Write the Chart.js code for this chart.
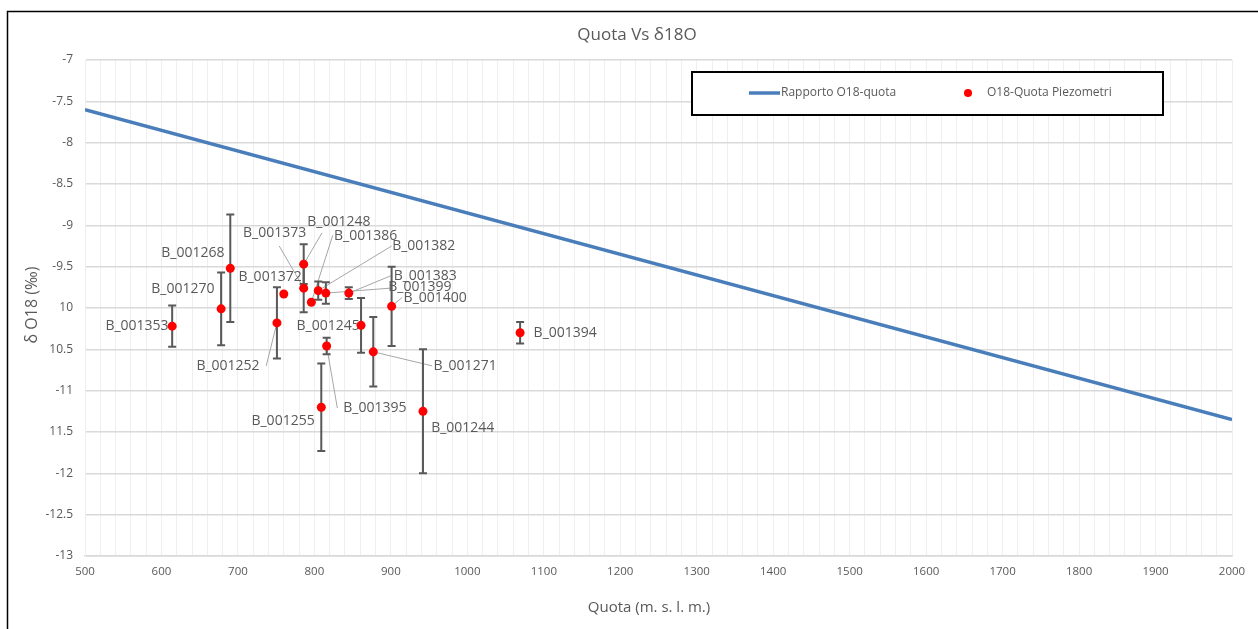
<!DOCTYPE html>
<html>
<head>
<meta charset="utf-8">
<script src="https://cdn.jsdelivr.net/npm/chart.js@4/dist/chart.umd.min.js"></script>
<style>
  html, body { margin: 0; padding: 0; background: #fff; }
  canvas { display: block; }
</style>
</head>
<body>
<canvas id="chart" width="1258" height="629"></canvas>
<script>
// piezometri: nome, quota (m s.l.m.), δ18O (‰), errore (±)
const pointNames = ['B_001353', 'B_001270', 'B_001268', 'B_001252', 'B_001372', 'B_001373',
    'B_001248', 'B_001386', 'B_001382', 'B_001399', 'B_001383', 'B_001400',
    'B_001245', 'B_001395', 'B_001271', 'B_001255', 'B_001244', 'B_001394'];
const pointQuota = [614, 678, 690, 751, 760, 786, 786, 796, 805, 815, 845, 901, 861, 816, 877, 809, 942, 1069];
const pointD18O = [-10.22, -10.01, -9.52, -10.18, -9.83, -9.76, -9.47, -9.93, -9.79, -9.82, -9.82, -9.98,
    -10.21, -10.46, -10.53, -11.20, -11.25, -10.30];
const pointErr = [0.25, 0.44, 0.65, 0.43, 0, 0.29, 0.24, 0, 0.11, 0.13, 0.07, 0.48, 0.33, 0.10, 0.42, 0.53, 0.75, 0.13];

// retta di riferimento
const lineQuota = [500, 2000];
const lineD18O = [-7.6, -11.35];

// etichette assi
const xTickValues = [];
for (let v = 500; v <= 2000; v += 20) xTickValues.push(v);
const yTickValues = [-13, -12.5, -12, -11.5, -11, -10.5, -10, -9.5, -9, -8.5, -8, -7.5, -7];
const yTickLabels = ['-13', '-12.5', '-12', '11.5', '-11', '10.5', '10', '-9.5', '-9', '-8.5', '-8', '-7.5', '-7'];

const seriesNames = ['Rapporto O18-quota', 'O18-Quota Piezometri'];

// posizione etichette (centro testo, unità dati) e inizio linea guida
const labelAt = [[568, -10.22], [628, -9.77], [641, -9.33], [687, -10.70], [742, -9.62], [748, -9.09],
    [832, -8.96], [867, -9.13], [943, -9.25], [938, -9.75], [945, -9.61], [958, -9.88],
    [818, -10.22], [879, -11.21], [997, -10.70], [759, -11.37], [994, -11.45], [1128, -10.30]];
const leaderFrom = [null, null, null, [737, -10.70], null, [754, -9.25],
    [810, -9.09], [824, -9.12], [901, -9.25], [899, -9.76], [900, -9.61], [915, -9.87],
    null, [830, -11.21], [954, -10.70], null, null, null];

const FONT = '"Open Sans", "Liberation Sans", sans-serif';
const TEXT = '#595959';

const decorPlugin = {
    id: 'decor',
    beforeDatasetsDraw(chart) {
        const { ctx, scales: { x, y } } = chart;
        ctx.save();
        // linee guida
        ctx.strokeStyle = '#a6a6a6';
        ctx.lineWidth = 1;
        leaderFrom.forEach((p, i) => {
            if (!p) return;
            ctx.beginPath();
            ctx.moveTo(x.getPixelForValue(p[0]), y.getPixelForValue(p[1]));
            ctx.lineTo(x.getPixelForValue(pointQuota[i]), y.getPixelForValue(pointD18O[i]));
            ctx.stroke();
        });
        // barre di errore
        ctx.strokeStyle = '#595959';
        ctx.lineWidth = 2;
        pointQuota.forEach((q, i) => {
            if (!pointErr[i]) return;
            const px = x.getPixelForValue(q);
            const top = y.getPixelForValue(pointD18O[i] + pointErr[i]);
            const bot = y.getPixelForValue(pointD18O[i] - pointErr[i]);
            ctx.beginPath();
            ctx.moveTo(px, top); ctx.lineTo(px, bot);
            ctx.moveTo(px - 4, top); ctx.lineTo(px + 4, top);
            ctx.moveTo(px - 4, bot); ctx.lineTo(px + 4, bot);
            ctx.stroke();
        });
        // etichette
        ctx.fillStyle = TEXT;
        ctx.font = '14px ' + FONT;
        ctx.textAlign = 'center';
        ctx.textBaseline = 'middle';
        pointNames.forEach((n, i) => {
            ctx.fillText(n, x.getPixelForValue(labelAt[i][0]), y.getPixelForValue(labelAt[i][1]));
        });
        ctx.restore();
    },
    afterDraw(chart) {
        const { ctx } = chart;
        ctx.save();
        // bordo esterno
        ctx.strokeStyle = '#000';
        ctx.lineWidth = 1.5;
        ctx.strokeRect(7.5, 11.5, 1300, 700);
        // titolo
        ctx.fillStyle = TEXT;
        ctx.textAlign = 'center';
        ctx.textBaseline = 'middle';
        ctx.font = '17px ' + FONT;
        ctx.fillText('Quota Vs δ18O', 637, 35);
        // titoli assi
        ctx.font = '15px ' + FONT;
        ctx.fillText('Quota (m. s. l. m.)', 649, 608);
        ctx.save();
        ctx.translate(32, 305);
        ctx.rotate(-Math.PI / 2);
        ctx.font = '16px ' + FONT;
        ctx.fillText('δ O18 (‰)', 0, 0);
        ctx.restore();
        // legenda
        ctx.fillStyle = '#fff';
        ctx.fillRect(692, 72, 471, 43);
        ctx.strokeStyle = '#000';
        ctx.lineWidth = 2;
        ctx.strokeRect(692, 72, 471, 43);
        ctx.strokeStyle = chart.data.datasets[0].borderColor;
        ctx.lineWidth = 3.5;
        ctx.beginPath();
        ctx.moveTo(749, 93); ctx.lineTo(780, 93);
        ctx.stroke();
        ctx.fillStyle = '#ff0000';
        ctx.beginPath();
        ctx.arc(968, 93, 4, 0, Math.PI * 2);
        ctx.fill();
        ctx.fillStyle = TEXT;
        ctx.textAlign = 'left';
        ctx.font = '12px ' + FONT;
        ctx.fillText(seriesNames[0], 781, 93);
        ctx.fillText(seriesNames[1], 987, 93);
        ctx.restore();
    }
};

new Chart(document.getElementById('chart'), {
    type: 'scatter',
    data: {
        datasets: [
            {
                type: 'line',
                label: seriesNames[0],
                data: lineQuota.map((q, i) => ({ x: q, y: lineD18O[i] })),
                borderColor: '#4a7ebb',
                borderWidth: 3.5,
                pointRadius: 0,
                fill: false,
            },
            {
                label: seriesNames[1],
                data: pointQuota.map((q, i) => ({ x: q, y: pointD18O[i] })),
                backgroundColor: '#ff0000',
                borderColor: '#ff0000',
                borderWidth: 0,
                pointRadius: 4.5,
            }
        ]
    },
    options: {
        responsive: false,
        animation: false,
        layout: { padding: { left: 8, right: 26, top: 60, bottom: 0 } },
        plugins: {
            legend: { display: false },
            title: { display: false },
            tooltip: { enabled: false },
        },
        scales: {
            x: {
                type: 'linear',
                min: 500,
                max: 2000,
                afterBuildTicks: s => { s.ticks = xTickValues.map(v => ({ value: v })); },
                afterFit: s => { s.height = 73; },
                grid: { color: '#efefef', lineWidth: 1, drawTicks: false },
                border: { color: '#d9d9d9', width: 1.5 },
                ticks: {
                    autoSkip: false,
                    maxRotation: 0,
                    padding: 9,
                    color: TEXT,
                    font: { family: FONT, size: 11.5 },
                    callback: v => (v % 100 === 0 ? String(v) : ''),
                },
            },
            y: {
                type: 'linear',
                min: -13,
                max: -7,
                afterBuildTicks: s => { s.ticks = yTickValues.map(v => ({ value: v })); },
                afterFit: s => { s.width = 77; },
                grid: { color: '#d9d9d9', lineWidth: 1.5, drawTicks: false },
                border: { color: '#efefef', width: 1 },
                ticks: {
                    padding: 12,
                    color: TEXT,
                    font: { family: FONT, size: 12 },
                    callback: v => {
                        const i = yTickValues.indexOf(v);
                        return i >= 0 ? yTickLabels[i] : '';
                    },
                },
            },
        },
    },
    plugins: [decorPlugin],
});
</script>
</body>
</html>
